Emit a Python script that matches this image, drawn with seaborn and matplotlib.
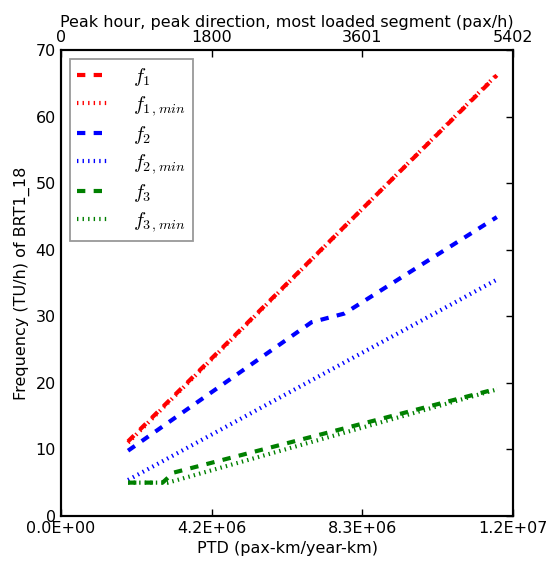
import numpy as np
import pandas as pd
import matplotlib
matplotlib.use("Agg")
import matplotlib.pyplot as plt
import matplotlib.ticker as mticker
import seaborn as sns

# values
ptd_f1 = [1.85e6, 1.2e7]
freq_f1 = [11.2, 66.2]
ptd_f1_min = [1.85e6, 1.2e7]
freq_f1_min = [11.0, 66.3]
ptd_f2 = [1.85e6, 6.9e6, 7.8e6, 1.2e7]
freq_f2 = [9.8, 29.1, 30.4, 44.9]
ptd_f2_min = [1.85e6, 1.2e7]
freq_f2_min = [5.4, 35.5]
ptd_f3 = [1.85e6, 2.8e6, 3.1e6, 1.2e7]
freq_f3 = [5.0, 5.0, 6.5, 19.1]
ptd_f3_min = [1.85e6, 2.95e6, 1.2e7]
freq_f3_min = [5.0, 5.0, 19.0]

ptd_max = 1.245e7
pax_max = 5402.4

sns.set_style("white")
plt.rcParams["font.family"] = ["DejaVu Sans"]
plt.rcParams["mathtext.fontset"] = "cm"
plt.rcParams["lines.scale_dashes"] = False
plt.rcParams["xtick.direction"] = "in"
plt.rcParams["ytick.direction"] = "in"
plt.rcParams["text.color"] = "black"
plt.rcParams["axes.labelcolor"] = "black"
plt.rcParams["xtick.color"] = "black"
plt.rcParams["ytick.color"] = "black"

fig = plt.figure(figsize=(5.53, 5.62), dpi=100)
ax = fig.add_axes([0.110, 0.082, 0.818, 0.829])

series = [
    (ptd_f1, freq_f1, "red", (0, (6, 6)), r"$f_1$"),
    (ptd_f1_min, freq_f1_min, "red", (0, (1, 3)), r"$f_{1\,,min}$"),
    (ptd_f2, freq_f2, "blue", (0, (6, 6)), r"$f_2$"),
    (ptd_f2_min, freq_f2_min, "blue", (0, (1, 3)), r"$f_{2\,,min}$"),
    (ptd_f3, freq_f3, "green", (0, (6, 6)), r"$f_3$"),
    (ptd_f3_min, freq_f3_min, "green", (0, (1, 3)), r"$f_{3\,,min}$"),
]
for xs, ys, col, ls, lab in series:
    df = pd.DataFrame({"ptd": xs, "freq": ys})
    sns.lineplot(data=df, x="ptd", y="freq", color=col, linestyle=ls,
                 linewidth=3, label=lab, ax=ax, legend=False)

ax.set_xlim(0, ptd_max)
ax.set_ylim(0, 70)
ax.set_xticks(np.linspace(0, ptd_max, 4))
ax.xaxis.set_major_formatter(mticker.FormatStrFormatter("%.1E"))
ax.set_yticks(range(0, 71, 10))
ax.set_xlabel("PTD (pax-km/year-km)", fontsize=11.5)
ax.set_ylabel("Frequency (TU/h) of BRT1_18", fontsize=11.5)
ax.tick_params(labelsize=11.5, length=5, width=1, top=False, right=True)
for sp in ax.spines.values():
    sp.set_color("black")
    sp.set_linewidth(1.5)

leg = ax.legend(loc="upper left", fontsize=14.5, handlelength=1.5,
                labelspacing=0.3, borderpad=0.35, handletextpad=1.3,
                borderaxespad=0.45, fancybox=False, framealpha=1)
leg.get_frame().set_edgecolor("#999999")
leg.get_frame().set_linewidth(1.3)

ax2 = ax.twiny()
ax2.set_xlim(0, pax_max)
top_ticks = np.linspace(0, pax_max, 4)
ax2.set_xticks(top_ticks)
ax2.set_xticklabels([str(int(t)) for t in top_ticks])
ax2.set_xlabel("Peak hour, peak direction, most loaded segment (pax/h)", fontsize=11.5)
ax2.tick_params(labelsize=11.5, length=5, width=1, direction="in")
ax2.xaxis.labelpad = 2
for sp in ax2.spines.values():
    sp.set_color("black")
    sp.set_linewidth(1.5)

fig.savefig("out.png", dpi=100, facecolor="white")
